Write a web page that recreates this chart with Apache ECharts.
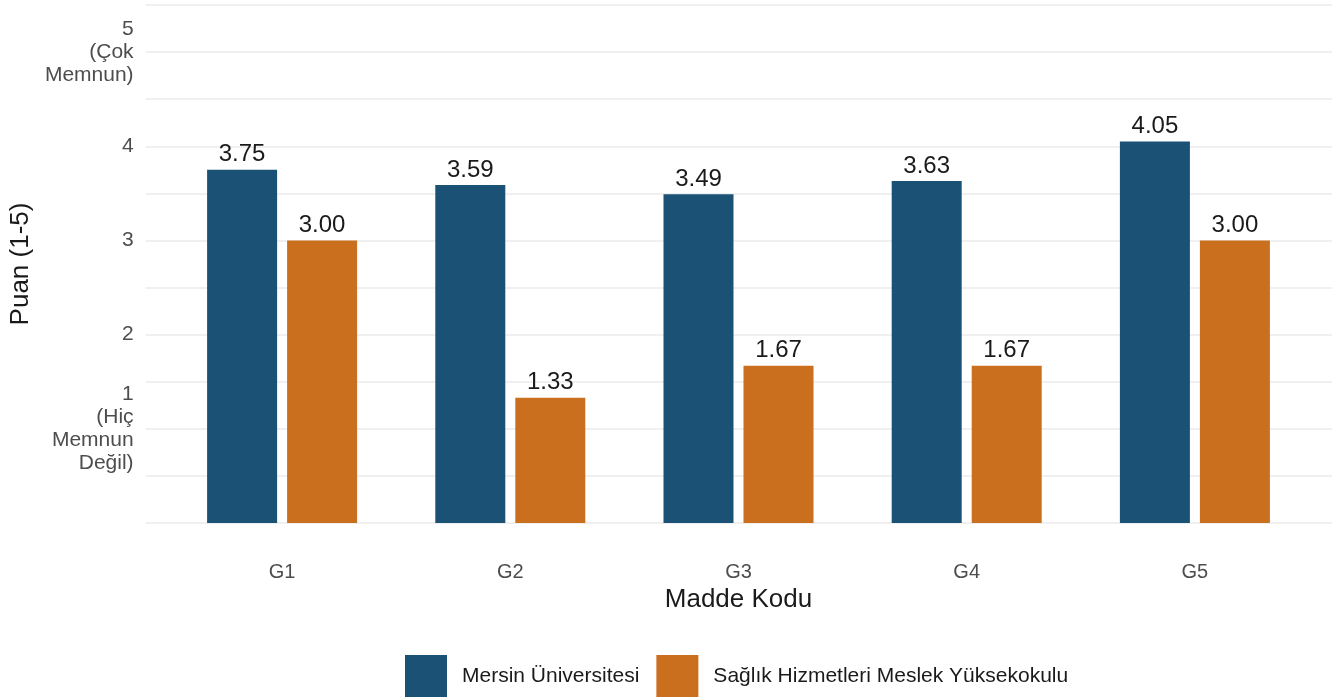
<!DOCTYPE html>
<html><head><meta charset="utf-8">
<script src="https://cdn.jsdelivr.net/npm/echarts@6/dist/echarts.min.js"></script>
<style>html,body{margin:0;padding:0;background:#fff}#c{width:1341px;height:698px}</style>
</head><body><div id="c"></div>
<script>
const categories = ['G1', 'G2', 'G3', 'G4', 'G5'];
const seriesNames = ['Mersin Üniversitesi', 'Sağlık Hizmetleri Meslek Yüksekokulu'];
const mersinValues = [3.75, 3.59, 3.49, 3.63, 4.05];
const shmyoValues = [3.00, 1.33, 1.67, 1.67, 3.00];
const yTickLabels = {1: '1\n(Hiç\nMemnun\nDeğil)', 2: '2', 3: '3', 4: '4', 5: '5\n(Çok\nMemnun)'};
const colors = ['#1B5174', '#C96F1E'];

const FONT = 'Liberation Sans, Arial, sans-serif';
const chart = echarts.init(document.getElementById('c'), null, {renderer: 'canvas'});
const gridTop = 5, gridBottom = 175;
chart.setOption({
  animation: false,
  backgroundColor: '#ffffff',
  textStyle: {fontFamily: FONT},
  grid: [
    {left: 145, right: 9, top: gridTop, bottom: gridBottom},
    {left: 168, right: 32, top: gridTop, bottom: gridBottom}
  ],
  xAxis: [
    {type: 'value', gridIndex: 0, show: false, min: 0, max: 1},
    {type: 'category', gridIndex: 1, data: categories,
     axisLine: {show: false}, axisTick: {show: false}, splitLine: {show: false},
     axisLabel: {margin: 39, fontSize: 20, color: '#4d4d4d', fontFamily: FONT},
     name: 'Madde Kodu', nameLocation: 'middle', nameGap: 61,
     nameTextStyle: {fontSize: 26, color: '#1a1a1a', fontFamily: FONT}}
  ],
  yAxis: [
    {type: 'value', gridIndex: 0, min: 0, max: 5.5, interval: 0.5,
     axisLine: {show: false}, axisTick: {show: false},
     splitLine: {show: true, lineStyle: {color: '#ebebeb', width: 1.5}},
     axisLabel: {margin: 12, fontSize: 21, lineHeight: 23, color: '#4d4d4d', fontFamily: FONT, align: 'right',
       formatter: function (v) { return yTickLabels[v] || ''; }},
     name: 'Puan (1-5)', nameLocation: 'middle', nameGap: 110,
     nameTextStyle: {fontSize: 26, color: '#1a1a1a', fontFamily: FONT}},
    {type: 'value', gridIndex: 1, min: 0, max: 5.5, show: false}
  ],
  legend: {
    left: 405, top: 655, padding: 0, itemWidth: 42, itemHeight: 42, itemGap: 17,
    icon: 'rect',
    textStyle: {fontSize: 21, color: '#1a1a1a', fontFamily: FONT, padding: [0, 0, 0, 10]},
    data: seriesNames
  },
  series: [
    {name: seriesNames[0], type: 'bar', xAxisIndex: 1, yAxisIndex: 1, data: mersinValues,
     barWidth: 70, barGap: '14.3%', itemStyle: {color: colors[0]},
     label: {show: true, position: 'top', distance: 3, fontSize: 24, color: '#1a1a1a', fontFamily: FONT,
       formatter: p => p.value.toFixed(2)}},
    {name: seriesNames[1], type: 'bar', xAxisIndex: 1, yAxisIndex: 1, data: shmyoValues,
     barWidth: 70, barGap: '14.3%', itemStyle: {color: colors[1]},
     label: {show: true, position: 'top', distance: 3, fontSize: 24, color: '#1a1a1a', fontFamily: FONT,
       formatter: p => p.value.toFixed(2)}}
  ]
});
</script></body></html>
